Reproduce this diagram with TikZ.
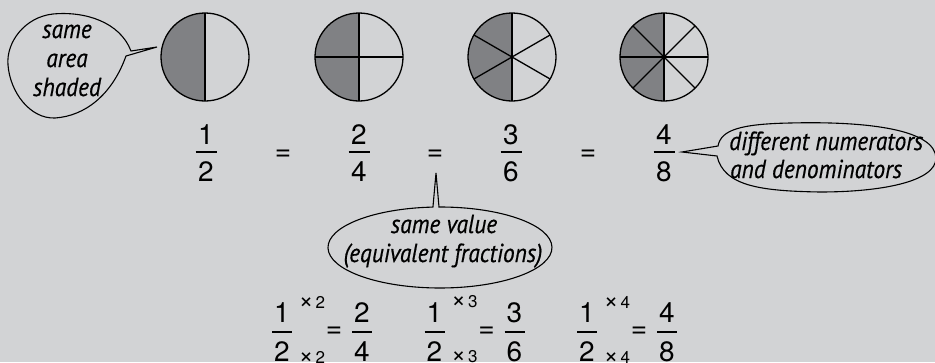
\documentclass[tikz,border=0pt]{standalone}
\usepackage{fontspec}
\setmainfont{TeX Gyre Heros}
\newfontfamily\bubfont{PT Sans Italic}[FakeStretch=0.9,FakeBold=0.5]
\usetikzlibrary{calc}
\definecolor{bg}{HTML}{D2D3D5}
\definecolor{pieshade}{HTML}{808184}
\tikzset{
  num/.style={inner sep=0pt, font=\fontsize{28}{30}\selectfont},
  eqsign/.style={inner sep=0pt, font=\fontsize{28}{30}\selectfont},
  mult/.style={inner sep=0pt, font=\fontsize{17}{20}\selectfont},
  bar/.style={line width=1.6pt},
  pie/.style={line width=1.3pt},
  bubble/.style={line width=1.1pt},
  bubtext/.style={inner sep=0pt, anchor=base, font=\bubfont\fontsize{26}{30}\selectfont},
}
\newcommand{\mtimes}{{\fontsize{25}{30}\selectfont ×}}
\begin{document}
\begin{tikzpicture}[x=1pt,y=-1pt]
\useasboundingbox (0,0) rectangle (935,362);
\fill[bg] (0,0) rectangle (935,362);
\clip (0,0) rectangle (935,362);
% pies
\coordinate (c1) at (205,57);
\coordinate (c2) at (359,57);
\coordinate (c3) at (512,57);
\coordinate (c4) at (664,57);
\foreach \c in {c1,c2,c3,c4}{
  \fill[pieshade] (\c) -- ++(90:44) arc[start angle=90,end angle=270,radius=44] -- cycle;
}
\draw[pie] (c1) circle[radius=44];
\draw[pie] ($(c1)+(90:44)$) -- ($(c1)+(270:44)$);
\draw[pie] (c2) circle[radius=44];
\foreach \a in {0,90}{\draw[pie] ($(c2)+(\a:44)$) -- ($(c2)+(\a+180:44)$);}
\draw[pie] (c3) circle[radius=44];
\foreach \a in {30,90,150}{\draw[pie] ($(c3)+(\a:44)$) -- ($(c3)+(\a+180:44)$);}
\draw[pie] (c4) circle[radius=44];
\foreach \a in {0,45,90,135}{\draw[pie] ($(c4)+(\a:44)$) -- ($(c4)+(\a+180:44)$);}
% top fractions
\node[num] (n1) at (206,135) {1};
\node[num] (d1) at (206,172) {2};
\node[num] (n2) at (359,135) {2};
\node[num] (d2) at (359,172) {4};
\node[num] (n3) at (511,135) {3};
\node[num] (d3) at (511,172) {6};
\node[num] (n4) at (664,135) {4};
\node[num] (d4) at (664,172) {8};
\foreach \i in {1,2,3,4}{
  \draw[bar] ($(n\i)!0.46!(d\i)+(-10.5,0)$) -- ++(21,0);
}
\node[eqsign] (e1) at (283,155) {=};
\node[eqsign] (e2) at (435,155) {=};
\node[eqsign] (e3) at (588,155) {=};
% bottom equations
\foreach \k/\x/\y/\top/\bot in {2/282/362/2/4, 3/434.5/514.5/3/6, 4/587/667/4/8}{
  \node[num] (bn\k) at (\x,313) {1};
  \node[num] (bd\k) at (\x,352) {2};
  \draw[bar] ($(bn\k)!0.49!(bd\k)+(-10,0)$) -- ++(20,0);
  \node[mult] (bs\k) at (\x+30,302) {\mtimes\hspace{2pt}\k};
  \node[mult] (bb\k) at (\x+30,357) {\mtimes\hspace{2pt}\k};
  \node[eqsign] (be\k) at (\x+52,332) {=};
  \node[num] (rn\k) at (\y,313) {\top};
  \node[num] (rd\k) at (\y,352) {\bot};
  \draw[bar] ($(rn\k)!0.49!(rd\k)+(-10,0)$) -- ++(20,0);
}
% bubble: same area shaded
\coordinate (t1) at (157,47);
\draw[bubble] (t1) -- (131,51) .. controls (120,22) and (85,11) .. (53,14)
  .. controls (25,17) and (6,42) .. (8,65)
  .. controls (10,92) and (30,119) .. (55,118)
  .. controls (85,116) and (112,95) .. (126,56) -- cycle;
\node[bubtext] (s1) at (67,38) {same};
\node[bubtext] (s2) at (67,67) {area};
\node[bubtext] (s3) at (67,96) {shaded};
% bubble: different numerators
\coordinate (t2) at (682,152);
\draw[bubble] (t2) -- (718,146) .. controls (721,130) and (740,124) .. (790,123)
  .. controls (870,121) and (935,130) .. (936,158)
  .. controls (936,182) and (880,192) .. (820,192)
  .. controls (760,191) and (724,186) .. (717,156) -- cycle;
\node[bubtext, anchor=base west] (r1) at (729,150) {different numerators};
\node[bubtext, anchor=base west] (r2) at (730,178) {and denominators};
% bubble: same value
\coordinate (t3) at (436,173);
\draw[bubble] (439,207) arc[start angle=-90.5, end angle=266.4, x radius=112, y radius=40.5] -- (t3) -- cycle;
\node[bubtext] (m1) at (444,233) {same value};
\node[bubtext] (m2) at (443,262) {(equivalent fractions)};
\end{tikzpicture}
\end{document}
